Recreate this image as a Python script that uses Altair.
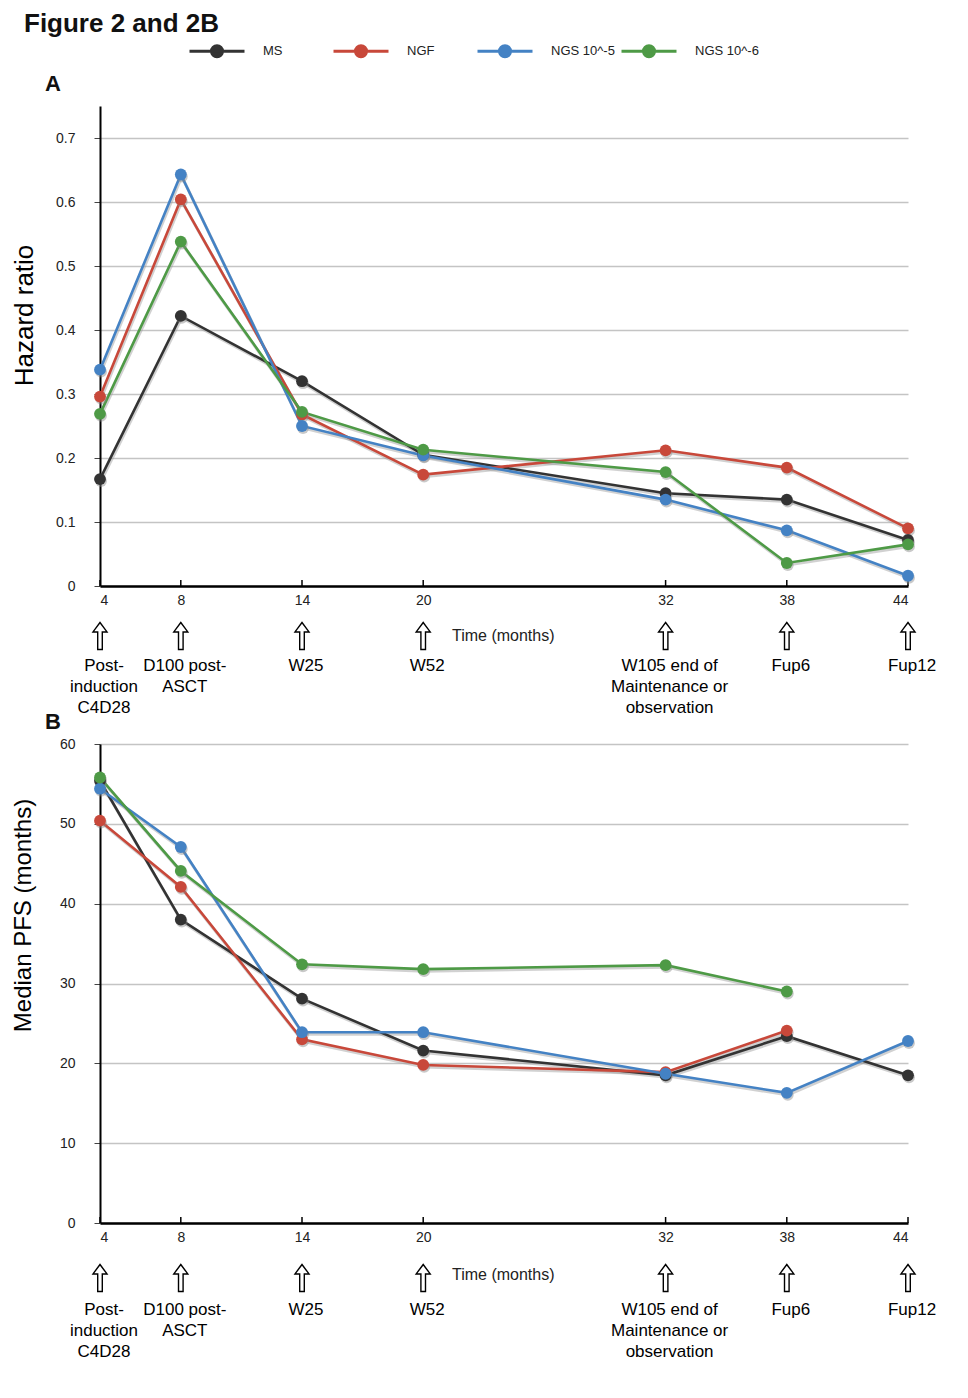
import altair as alt
import pandas as pd

FONT = "Liberation Sans"

months = [4, 8, 14, 20, 32, 38, 44]
series = ["MS", "NGF", "NGS 10^-5", "NGS 10^-6"]
colors = ["#333333", "#c8483a", "#4482c4", "#4e9a46"]

# Panel A: hazard ratio
hr_ms = [0.167, 0.422, 0.320, 0.205, 0.145, 0.135, 0.072]
hr_ngf = [0.296, 0.604, 0.268, 0.174, 0.212, 0.185, 0.090]
hr_ngs5 = [0.338, 0.643, 0.250, 0.204, 0.135, 0.087, 0.016]
hr_ngs6 = [0.269, 0.538, 0.272, 0.213, 0.178, 0.036, 0.065]

# Panel B: median PFS (months)
pfs_ms = [55.4, 38.0, 28.1, 21.6, 18.5, 23.4, 18.5]
pfs_ngf = [50.4, 42.1, 23.0, 19.8, 18.9, 24.1, None]
pfs_ngs5 = [54.4, 47.1, 23.9, 23.9, 18.7, 16.3, 22.8]
pfs_ngs6 = [55.8, 44.1, 32.4, 31.8, 32.3, 29.0, None]

hr_ticks = [0, 0.1, 0.2, 0.3, 0.4, 0.5, 0.6, 0.7]
pfs_ticks = [0, 10, 20, 30, 40, 50, 60]

timepoints = [
    "Post-\ninduction\nC4D28",
    "D100 post-\nASCT",
    "W25",
    "W52",
    "W105 end of\nMaintenance or\nobservation",
    "Fup6",
    "Fup12",
]


def long_df(values):
    rows = []
    for s, vals in zip(series, values):
        for m, v in zip(months, vals):
            if v is not None:
                rows.append({"series": s, "month": m, "value": v})
    return pd.DataFrame(rows)


df_a = long_df([hr_ms, hr_ngf, hr_ngs5, hr_ngs6])
df_b = long_df([pfs_ms, pfs_ngf, pfs_ngs5, pfs_ngs6])
ann_df = pd.DataFrame({"month": months, "label": timepoints})
one = pd.DataFrame({"k": [0]})

ARROW = "M0,-1L0.52,-0.3L0.17,-0.3L0.17,1L-0.17,1L-0.17,-0.3L-0.52,-0.3Z"
LEG_PATH = "M-1,0L1,0M0.2,0A0.2,0.2 0 1 1 -0.2,0A0.2,0.2 0 1 1 0.2,0Z"

legend = alt.Legend(
    title=None, orient="none", legendX=88, legendY=-84,
    direction="horizontal", columns=4, gridAlign="all", columnPadding=0,
    labelOffset=17, labelFontSize=13, labelFont=FONT, labelColor="#222",
    symbolSize=3025, symbolType=LEG_PATH, symbolStrokeWidth=3, padding=0,
)

W = 808


def label_text(txt, size, x, y, align="center", weight="bold", color="#111", baseline="middle"):
    return alt.Chart(one).mark_text(align=align, baseline=baseline, fontSize=size, font=FONT,
                                    fontWeight=weight, color=color, text=txt).encode(
        x=alt.value(x), y=alt.value(y))


def panel(df, ytitle, tsize, tx, ydom, yticks, yfmt, h, title_y, arr_y, lab_y, time_y, extras):
    x = alt.X("month:Q",
              scale=alt.Scale(domain=[4, 44], nice=False, zero=False),
              axis=alt.Axis(values=months, ticks=False, grid=False, domainColor="black",
                            domainWidth=2.5, labelFontSize=14, labelFont=FONT,
                            labelColor="#222", labelPadding=7, title=None))
    y = alt.Y("value:Q",
              scale=alt.Scale(domain=ydom, nice=False, zero=True),
              axis=alt.Axis(values=yticks, format=yfmt, grid=True, gridColor="#c4c4c4",
                            gridWidth=1.5, domainColor="black", domainWidth=2,
                            tickColor="#444", tickSize=6, labelFontSize=14,
                            labelFont=FONT, labelColor="#222", labelPadding=19,
                            title=ytitle, titleFont=FONT, titleFontSize=tsize,
                            titleFontWeight="normal", titleColor="black",
                            titleX=tx, titleY=title_y, titleBaseline="alphabetic"))
    color = alt.Color("series:N", scale=alt.Scale(domain=series, range=colors), legend=legend)
    base = alt.Chart(df)
    xm = alt.X("month:Q")
    layers = [
        alt.Chart(ann_df).mark_rule(color="black", strokeWidth=1.5).encode(
            x=xm, y=alt.value(h - 6), y2=alt.value(h)),
        base.mark_line(color="#999999", strokeWidth=3, opacity=0.45, xOffset=1, yOffset=2).encode(
            x=x, y=y, detail="series:N"),
        base.mark_line(strokeWidth=2.6).encode(x=x, y=y, color=color),
        base.mark_point(filled=True, color="#888888", opacity=0.45, size=140, xOffset=1, yOffset=2).encode(
            x=x, y=y, detail="series:N"),
        base.mark_point(filled=True, opacity=1, size=140).encode(x=x, y=y, color=color),
        alt.Chart(ann_df).mark_point(shape=ARROW, size=729, filled=True, fill="white",
                                     stroke="black", strokeWidth=1.4, opacity=1).encode(
            x=xm, y=alt.value(arr_y)),
        alt.Chart(ann_df).mark_text(align="center", baseline="top", fontSize=17, font=FONT,
                                    lineBreak="\n", lineHeight=21, color="black", dx=4).encode(
            x=xm, y=alt.value(lab_y), text="label:N"),
        label_text("Time (months)", 16, 352, time_y, align="left", weight="normal", color="#222"),
    ] + extras
    return alt.layer(*layers).properties(width=W, height=h)


extras_a = [
    label_text("Figure 2 and 2B", 26, -76, -74, align="left", baseline="alphabetic"),
    label_text("A", 22, -47, -22),
    label_text("B", 22, -47, 616),
]

panel_a = panel(df_a, "Hazard ratio", 26, -68, [0, 0.75], hr_ticks, ".1~f", 480, 209, 530, 552, 530, extras_a)
panel_b = panel(df_b, "Median PFS (months)", 24, -70, [0, 60], pfs_ticks, "d", 479, 171, 534, 558, 531, [])

chart = alt.vconcat(panel_a, panel_b, spacing=158, bounds="flush").properties(
    padding={"left": 3, "top": 3, "right": 5, "bottom": 5}, background="white"
).configure_view(stroke=None)

chart.save("out.html", embed_options={"renderer": "svg", "actions": False})
